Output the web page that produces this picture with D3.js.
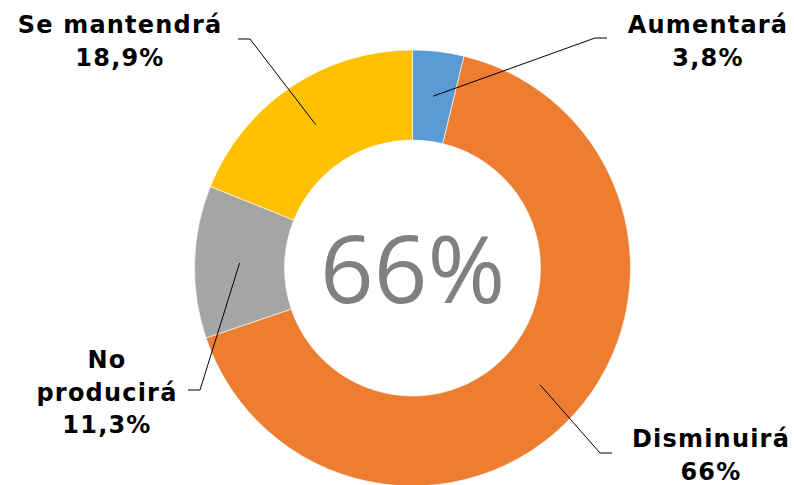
<!DOCTYPE html>
<html><head><meta charset="utf-8">
<script src="https://cdn.jsdelivr.net/npm/d3@7"></script>
<style>body{margin:0;background:#fff}svg{display:block}</style>
</head><body>
<svg id="c" width="794" height="485"></svg>
<script>
const categories = ["Aumentará", "Disminuirá", "No producirá", "Se mantendrá"];
const values = [3.8, 66, 11.3, 18.9];
const valueLabels = ["3,8%", "66%", "11,3%", "18,9%"];
const labelLines = [["Aumentará"], ["Disminuirá"], ["No", "producirá"], ["Se mantendrá"]];
const centerLabel = "66%";
const colors = ["#5B9BD5", "#ED7D31", "#A5A5A5", "#FFC000"];

// layout (label anchor positions & leader elbows)
const layout = [
  {elbow:[595,38], end:[607,38], tx:708, ty:33},
  {elbow:[600,453], end:[612,453], tx:711, ty:447},
  {elbow:[200,390], end:[188,390], tx:107, ty:368},
  {elbow:[250,39], end:[238,39], tx:120, ty:33}
];

const svg = d3.select("#c");
const cx = 412.5, cy = 268, rOut = 218, rIn = 128;
const g = svg.append("g").attr("transform", `translate(${cx},${cy})`);
const pie = d3.pie().sort(null).value(d => d)(values);
const arc = d3.arc().innerRadius(rIn).outerRadius(rOut);
const midArc = d3.arc().innerRadius((rIn+rOut)/2).outerRadius((rIn+rOut)/2);

g.selectAll("path.s").data(pie).enter().append("path")
  .attr("d", arc).attr("fill", (d,i) => colors[i])
  .attr("stroke", "#fff").attr("stroke-width", 0.6);

g.append("text").attr("x", 0).attr("y", 35)
  .attr("text-anchor", "middle")
  .attr("font-family", "'Open Sans', sans-serif")
  .attr("font-size", 94).attr("fill", "#808080")
  .text(centerLabel);

pie.forEach((d, i) => {
  const c = midArc.centroid(d);
  const L = layout[i];
  svg.append("polyline")
    .attr("points", [[c[0]+cx, c[1]+cy], L.elbow, L.end].map(p => p.join(",")).join(" "))
    .attr("fill", "none").attr("stroke", "#000").attr("stroke-width", 1);
  const lines = labelLines[i].concat([valueLabels[i]]);
  const t = svg.append("text").attr("text-anchor", "middle")
    .attr("font-family", "'DejaVu Sans', Verdana, sans-serif")
    .attr("font-weight", "bold").attr("font-size", 24)
    .attr("letter-spacing", 1.2).attr("fill", "#000");
  lines.forEach((s, k) => {
    t.append("tspan").attr("x", L.tx).attr("y", L.ty + k*32.5).text(s);
  });
});
</script>
</body></html>
